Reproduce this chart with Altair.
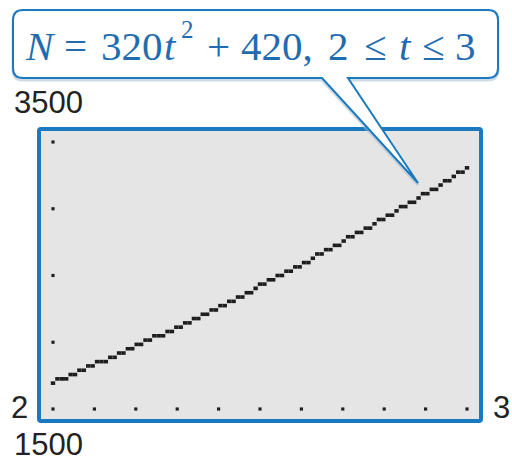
import altair as alt
import numpy as np
import pandas as pd

# Window: 2 <= t <= 3, 1500 <= N <= 3500, tick marks every 0.1 and every 500
T_MIN, T_MAX = 2.0, 3.0
N_MIN, N_MAX = 1500, 3500
t_ticks = [2.0, 2.1, 2.2, 2.3, 2.4, 2.5, 2.6, 2.7, 2.8, 2.9, 3.0]
n_ticks = [1500, 2000, 2500, 3000, 3500]

# Screen grid of the calculator display (columns x rows)
COLS, ROWS = 95, 63

# Curve N = 320 t^2 + 420, plotted one screen column at a time
COEF_A, COEF_C = 320, 420

BLUE = "#1b79bf"
TEXT_BLUE = "#1f6db0"
INK = "#1e1e1e"

dx = (T_MAX - T_MIN) / (COLS - 1)
dy = (N_MAX - N_MIN) / (ROWS - 1)
t_cols = T_MIN + np.arange(COLS) * dx
n_vals = COEF_A * t_cols ** 2 + COEF_C
rows = np.round((n_vals - N_MIN) / dy)
n_snap = N_MIN + rows * dy
curve = pd.DataFrame({
    "t0": t_cols - dx / 2, "t1": t_cols + dx / 2,
    "n0": n_snap - 0.42 * dy, "n1": n_snap + 0.42 * dy,
})

ticks = pd.DataFrame(
    [{"t": t, "n": N_MIN} for t in t_ticks] + [{"t": T_MIN, "n": n} for n in n_ticks[1:]]
)

xs = alt.Scale(domain=[T_MIN, T_MAX], range=[53, 467], nice=False, zero=False)
ys = alt.Scale(domain=[N_MIN, N_MAX], range=[409, 142], nice=False, zero=False)

one = pd.DataFrame({"k": [0]})

screen = alt.Chart(one).mark_rect(
    fill="#e5e5e5", stroke=BLUE, strokeWidth=4, cornerRadius=2
).encode(x=alt.value(39), x2=alt.value(481), y=alt.value(129), y2=alt.value(421))

pixels = alt.Chart(curve).mark_rect(color=INK).encode(
    x=alt.X("t0:Q", scale=xs, axis=None), x2="t1:Q",
    y=alt.Y("n0:Q", scale=ys, axis=None), y2="n1:Q",
)

tick_dots = alt.Chart(ticks).mark_square(color=INK, size=10, opacity=1).encode(
    x=alt.X("t:Q", scale=xs, axis=None),
    y=alt.Y("n:Q", scale=ys, axis=None),
)


def label(txt, x, y, size=31, font="Liberation Sans", style="normal", color="#222222"):
    return alt.Chart(one).mark_text(
        text=txt, font=font, fontSize=size, fontStyle=style, color=color,
        align="left", baseline="alphabetic",
    ).encode(x=alt.value(x), y=alt.value(y))


window_labels = [
    label(f"{N_MAX}", 14, 113),
    label(f"{T_MIN:g}", 11, 418),
    label(f"{T_MAX:g}", 493, 418),
    label(f"{N_MIN}", 14, 455),
]

# Callout bubble with its pointer, drawn as one outline (1 unit = 1 px at size 4)
bubble_path = (
    "M 23 10 L 488 10 Q 498 10 498 20 L 498 68 Q 498 78 488 78 "
    "L 348 78 L 418 183 L 322 78 L 23 78 Q 13 78 13 68 L 13 20 Q 13 10 23 10 Z"
)
bubble_shadow = alt.Chart(one).mark_point(
    shape=bubble_path, size=4, filled=False, stroke="#a8bfd2", strokeWidth=3, opacity=0.55
).encode(x=alt.value(0), y=alt.value(2))
bubble = alt.Chart(one).mark_point(
    shape=bubble_path, size=4, filled=True, fill="white", fillOpacity=1,
    stroke=BLUE, strokeWidth=2, opacity=1
).encode(x=alt.value(0), y=alt.value(0))

SERIF = "Liberation Serif"
FS = 41
BASE = 60
formula = [
    label("N", 26, BASE, FS, SERIF, "italic", TEXT_BLUE),
    label("=", 64, BASE, FS, SERIF, "normal", TEXT_BLUE),
    label("320", 101, BASE, FS, SERIF, "normal", TEXT_BLUE),
    label("t", 164, BASE, FS, SERIF, "italic", TEXT_BLUE),
    label("2", 181, 38, 25, SERIF, "normal", TEXT_BLUE),
    label("+", 207, BASE, FS, SERIF, "normal", TEXT_BLUE),
    label("420,", 241, BASE, FS, SERIF, "normal", TEXT_BLUE),
    label("2", 328, BASE, FS, SERIF, "normal", TEXT_BLUE),
    label("≤", 364, BASE, FS, SERIF, "normal", TEXT_BLUE),
    label("t", 399, BASE, FS, SERIF, "italic", TEXT_BLUE),
    label("≤", 422, BASE, FS, SERIF, "normal", TEXT_BLUE),
    label("3", 455, BASE, FS, SERIF, "normal", TEXT_BLUE),
]

chart = alt.layer(
    screen, pixels, tick_dots, *window_labels, bubble_shadow, bubble, *formula
).properties(
    width=512, height=461, padding=0,
    autosize=alt.AutoSizeParams(type="none"),
    background="white",
).configure_view(stroke=None)

chart.save("out.html", embed_options={"renderer": "svg", "actions": False})
